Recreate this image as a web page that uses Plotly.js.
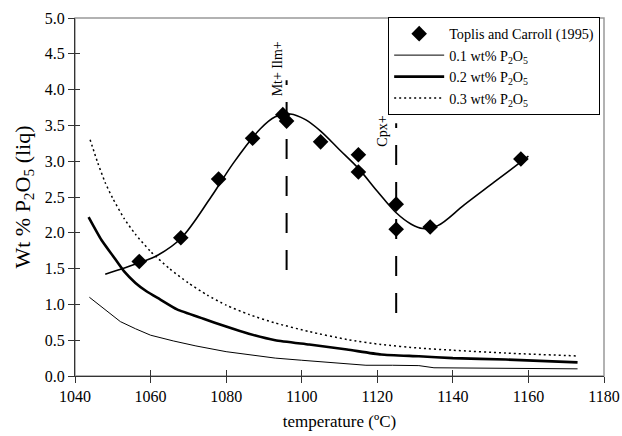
<!DOCTYPE html>
<html>
<head>
<meta charset="utf-8">
<script src="https://cdn.plot.ly/plotly-3.0.1.min.js"></script>
<style>html,body{margin:0;padding:0;background:#fff;}#chart{width:622px;height:436px;}</style>
</head>
<body>
<div id="chart"></div>
<script>
// Experimental data: Toplis and Carroll (1995)
const tcTemp = [1057, 1068, 1078, 1087, 1095, 1096, 1105, 1115, 1115, 1125, 1125, 1134, 1158];
const tcP2O5 = [1.60, 1.93, 2.75, 3.32, 3.65, 3.56, 3.27, 3.09, 2.85, 2.40, 2.05, 2.08, 3.03];

// Hand-drawn trend through the data
const fitTemp = [1048, 1057, 1062, 1068, 1076, 1082, 1089, 1093, 1097, 1101, 1105, 1110, 1115, 1120, 1125, 1129, 1132, 1136, 1143, 1151, 1160];
const fitP2O5 = [1.42, 1.58, 1.69, 1.92, 2.50, 2.98, 3.45, 3.62, 3.66, 3.58, 3.42, 3.16, 2.90, 2.58, 2.28, 2.12, 2.06, 2.10, 2.39, 2.71, 3.07];

// Model saturation curves
const t01 = [1043.8, 1048, 1052, 1056, 1060, 1066, 1072, 1080, 1087, 1093, 1100, 1107, 1117, 1124, 1131, 1135, 1145, 1154, 1173];
const p01 = [1.10, 0.92, 0.76, 0.66, 0.57, 0.49, 0.42, 0.34, 0.29, 0.25, 0.22, 0.19, 0.15, 0.15, 0.145, 0.115, 0.11, 0.10, 0.10];

const t02 = [1043.6, 1047, 1050, 1053, 1056, 1059, 1062.5, 1067, 1074, 1080, 1086, 1093, 1102, 1112, 1121, 1131, 1140, 1154, 1173];
const p02 = [2.22, 1.90, 1.68, 1.46, 1.30, 1.18, 1.07, 0.93, 0.80, 0.69, 0.59, 0.50, 0.44, 0.37, 0.30, 0.275, 0.25, 0.23, 0.19];

const t03 = [1044, 1046, 1048, 1050, 1053, 1056, 1060, 1065, 1070, 1075, 1080, 1086, 1093, 1102, 1112, 1121, 1131, 1140, 1154, 1173];
const p03 = [3.30, 2.98, 2.70, 2.48, 2.20, 1.98, 1.74, 1.50, 1.30, 1.13, 0.99, 0.86, 0.74, 0.62, 0.51, 0.44, 0.39, 0.36, 0.32, 0.28];

// Phase appearance markers
const mtTemp = [1096, 1096];
const mtRange = [1.48, 4.13];
const cpxTemp = [1125, 1125];
const cpxRange = [0.88, 3.53];

const legendNames = ['Toplis and Carroll (1995)', '0.1 wt% P<sub>2</sub>O<sub>5</sub>', '0.2 wt% P<sub>2</sub>O<sub>5</sub>', '0.3 wt% P<sub>2</sub>O<sub>5</sub>'];
const xTicks = [1040, 1060, 1080, 1100, 1120, 1140, 1160, 1180];
const yTicks = [0, 0.5, 1, 1.5, 2, 2.5, 3, 3.5, 4, 4.5, 5];

const serif = "'Liberation Serif', 'Times New Roman', serif";

const traces = [
  {x: t01, y: p01, mode: 'lines', name: legendNames[1], legendrank: 2, line: {color: '#000', width: 1}},
  {x: t02, y: p02, mode: 'lines', name: legendNames[2], legendrank: 3, line: {color: '#000', width: 2.6, shape: 'spline', smoothing: 0.5}},
  {x: t03, y: p03, mode: 'lines', name: legendNames[3], legendrank: 4, line: {color: '#000', width: 1.5, dash: '2px,3px', shape: 'spline', smoothing: 0.6}},
  {x: mtTemp, y: mtRange, mode: 'lines', showlegend: false, hoverinfo: 'skip', line: {color: '#000', width: 2, dash: '20px,17px'}},
  {x: cpxTemp, y: cpxRange, mode: 'lines', showlegend: false, hoverinfo: 'skip', line: {color: '#000', width: 2, dash: '20px,17px'}},
  {x: fitTemp, y: fitP2O5, mode: 'lines', showlegend: false, hoverinfo: 'skip', line: {color: '#000', width: 1.6, shape: 'spline', smoothing: 1}},
  {x: tcTemp, y: tcP2O5, mode: 'markers', name: legendNames[0], legendrank: 1, marker: {symbol: 'diamond', size: 12, color: '#000'}},
  {x: [], y: [], xaxis: 'x2', yaxis: 'y2', mode: 'none', showlegend: false, hoverinfo: 'skip'}
];

const axBase = {
  showgrid: false, zeroline: false, ticks: 'outside', ticklen: 6, tickwidth: 1, tickcolor: '#333',
  showline: true, linecolor: '#333', linewidth: 1,
  tickfont: {family: serif, size: 16, color: '#000'}
};

const layout = {
  width: 622, height: 436,
  margin: {l: 75, r: 18, t: 18, b: 60},
  paper_bgcolor: '#fff', plot_bgcolor: '#fff',
  showlegend: true,
  xaxis: Object.assign({}, axBase, {
    range: [1040, 1180], tickvals: xTicks, ticktext: xTicks.map(String),
    title: {text: 'temperature (ºC)', font: {family: serif, size: 17, color: '#000'}, standoff: 10}
  }),
  yaxis: Object.assign({}, axBase, {
    range: [0, 5], tickvals: yTicks, ticktext: yTicks.map(v => v.toFixed(1)),
    title: {text: 'Wt % P<sub>2</sub>O<sub>5</sub> (liq)', font: {family: serif, size: 22, color: '#000'}, standoff: 8}
  }),
  xaxis2: {overlaying: 'x', anchor: 'y2', side: 'bottom', range: [1040, 1180], tickvals: xTicks, ticks: 'inside', ticklen: 6, tickcolor: '#333', showticklabels: false, showline: false, showgrid: false, zeroline: false},
  yaxis2: {overlaying: 'y', anchor: 'x2', side: 'left', range: [0, 5], tickvals: yTicks, ticks: 'inside', ticklen: 5, tickcolor: '#333', showticklabels: false, showline: false, showgrid: false, zeroline: false},
  legend: {
    x: 0.592, y: 1.003, xanchor: 'left', yanchor: 'top',
    bgcolor: '#fff', bordercolor: '#000', borderwidth: 1,
    font: {family: serif, size: 14.2, color: '#000'},
    itemwidth: 50, tracegroupgap: 0
  },
  shapes: [
    {type: 'rect', xref: 'paper', yref: 'paper', x0: 0, x1: 1, y0: 0, y1: 1, line: {color: '#999', width: 1.5}, layer: 'below'}
  ],
  annotations: [
    {x: 1093.6, y: 4.29, xref: 'x', yref: 'y', text: 'Mt+ Ilm+', textangle: -90, showarrow: false, font: {family: serif, size: 14, color: '#000'}},
    {x: 1121.4, y: 3.42, xref: 'x', yref: 'y', text: 'Cpx+', textangle: -90, showarrow: false, font: {family: serif, size: 14, color: '#000'}}
  ]
};

Plotly.newPlot('chart', traces, layout, {displayModeBar: false, staticPlot: true});
</script>
</body>
</html>
